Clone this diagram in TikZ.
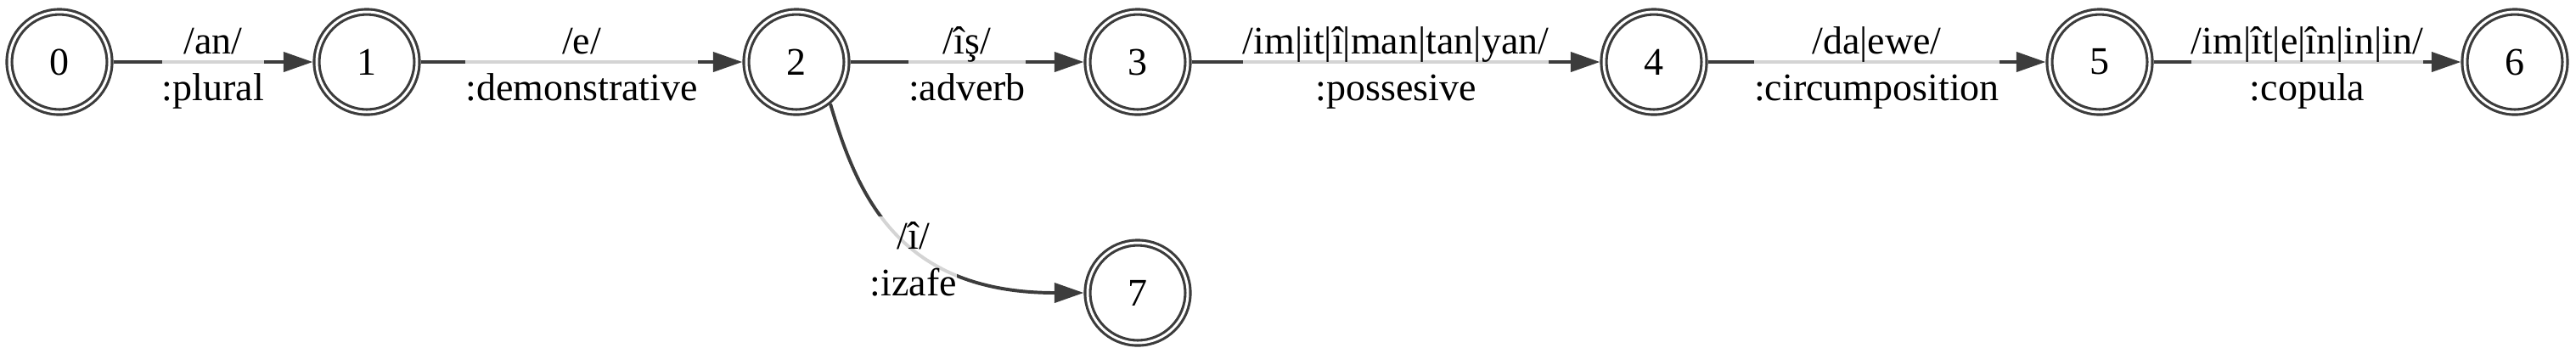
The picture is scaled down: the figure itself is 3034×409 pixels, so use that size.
\documentclass[tikz,border=0pt]{standalone}
\usepackage{fontspec}
\setmainfont{Liberation Serif}
\usetikzlibrary{arrows.meta}
\definecolor{edgegray}{HTML}{3C3C3C}
\begin{document}
\begin{tikzpicture}[x={(0.3043pt,0pt)}, y={(0pt,-0.3043pt)},
  state/.style={circle, draw=edgegray, line width=0.95pt, double=white, double distance=0.9pt,
    minimum size=35.9pt, inner sep=0pt, outer sep=1.4pt, font=\fontsize{14}{16.8}\selectfont},
  trans/.style={draw=edgegray, line width=1.2pt, -{Triangle[length=10.5pt,width=7pt]}},
  lab/.style={fill=white, fill opacity=0.78, text opacity=1, inner sep=0pt, align=center,
    font=\fontsize{14}{16.8}\selectfont},
  rowlab/.style={lab, yshift=-2.2pt}]
\useasboundingbox (0,0) rectangle (3034,409);
\node[state] (n0) at (70,73) {0};
\node[state] (n1) at (432,73) {1};
\node[state] (n2) at (938,73) {2};
\node[state] (n3) at (1340,73) {3};
\node[state] (n4) at (1948,73) {4};
\node[state] (n5) at (2473,73) {5};
\node[state] (n6) at (2962,73) {6};
\node[state] (n7) at (1340,345) {7};
\draw[trans] (n0) -- node[rowlab] (l01) {\strut/an/\\\strut:plural} (n1);
\draw[trans] (n1) -- node[rowlab] (l12) {\strut/e/\\\strut:demonstrative} (n2);
\draw[trans] (n2) -- node[rowlab] (l23) {\strut/îş/\\\strut:adverb} (n3);
\draw[trans] (n3) -- node[rowlab] (l34) {\strut/im|it|î|man|tan|yan/\\\strut:possesive} (n4);
\draw[trans] (n4) -- node[rowlab] (l45) {\strut/da|ewe/\\\strut:circumposition} (n5);
\draw[trans] (n5) -- node[rowlab] (l56) {\strut/im|ît|e|în|in|in/\\\strut:copula} (n6);
\draw[trans] (n2.-51) .. controls (1010,232) and (1060,345) .. (n7.west);
\node[lab] (l27) at (1076,310) {\strut/î/\\\strut:izafe};
\end{tikzpicture}
\end{document}
